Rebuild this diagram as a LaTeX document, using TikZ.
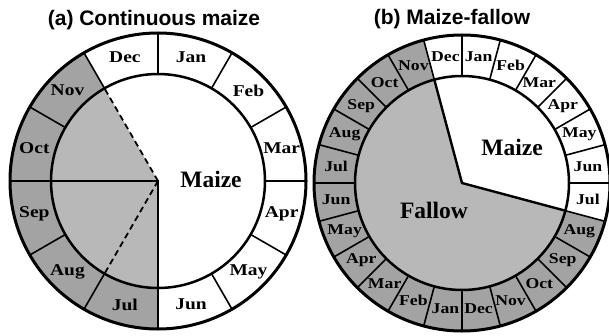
\documentclass[tikz,border=0pt]{standalone}
\usepackage{fontspec}
\setmainfont{Liberation Serif}
\newfontfamily\titlefont{Liberation Sans}
\definecolor{ringgray}{gray}{0.64}
\definecolor{diskgray}{gray}{0.72}
\begin{document}
\begin{tikzpicture}[x=1pt,y=1pt,
  outerc/.style={line width=3pt},
  innerc/.style={line width=2.5pt},
  divider/.style={line width=1.6pt},
  heavy/.style={line width=2.4pt},
  dashline/.style={line width=1.8pt,dash pattern=on 6pt off 4pt},
  monthL/.style={font=\fontsize{16.5}{16.5}\selectfont\bfseries,inner sep=0pt},
  monthR/.style={font=\fontsize{15}{15}\selectfont\bfseries,inner sep=0pt},
  crop/.style={font=\fontsize{23.5}{23.5}\selectfont\bfseries,inner sep=0pt},
  ttl/.style={font=\titlefont\fontsize{21}{21}\selectfont\bfseries,inner sep=0pt,anchor=base}]
\useasboundingbox (0,0) rectangle (609,335);
\def\Ro{148}
\def\Ri{107}
% ---------------- left circle ----------------
\coordinate (L) at (158,154);
\fill[ringgray] ([shift={(120:\Ro)}]L) arc[start angle=120,end angle=270,radius=\Ro]
  -- ([shift={(270:\Ri)}]L) arc[start angle=270,end angle=120,radius=\Ri] -- cycle;
\fill[diskgray] (L) -- ([shift={(120:\Ri)}]L) arc[start angle=120,end angle=270,radius=\Ri] -- cycle;
\foreach \a in {0,30,...,330}
  \draw[divider] ([shift={(\a:\Ri)}]L) -- ([shift={(\a:\Ro)}]L);
\draw[heavy] ([shift={(180:\Ro)}]L) -- (L) -- ([shift={(270:\Ro)}]L);
\draw[dashline] (L) -- ([shift={(120:\Ri)}]L);
\draw[dashline] (L) -- ([shift={(240:\Ri)}]L);
\draw[outerc] (L) circle[radius=\Ro];
\draw[innerc] (L) circle[radius=\Ri];
\foreach \m/\a [count=\i] in {Jan/75,Feb/45,Mar/15,Apr/-15,May/-45,Jun/-75,Jul/-105,Aug/-135,Sep/-165,Oct/165,Nov/135,Dec/105}
  \node[monthL] (lm\i) at ([shift={(\a:128)}]L) {\scalebox{1.18}[1]{\m}};
\node[crop] (lmaize) at (211,156) {Maize};
\node[ttl] (ltitle) at (154,309) {(a) Continuous maize};
% ---------------- right circle ----------------
\coordinate (R) at (462,152);
\fill[ringgray] ([shift={(105:\Ro)}]R) arc[start angle=105,end angle=345,radius=\Ro]
  -- ([shift={(345:\Ri)}]R) arc[start angle=345,end angle=105,radius=\Ri] -- cycle;
\fill[diskgray] (R) -- ([shift={(105:\Ri)}]R) arc[start angle=105,end angle=345,radius=\Ri] -- cycle;
\foreach \a in {0,15,...,345}
  \draw[divider] ([shift={(\a:\Ri)}]R) -- ([shift={(\a:\Ro)}]R);
\draw[heavy] ([shift={(105:\Ri)}]R) -- (R) -- ([shift={(-15:\Ri)}]R);
\draw[outerc] (R) circle[radius=\Ro];
\draw[innerc] (R) circle[radius=\Ri];
\foreach \m/\a [count=\i] in {Jan/82.5,Feb/67.5,Mar/52.5,Apr/37.5,May/22.5,Jun/7.5,Jul/-7.5,Aug/-22.5,Sep/-37.5,Oct/-52.5,Nov/-67.5,Dec/-82.5,Jan/-97.5,Feb/-112.5,Mar/-127.5,Apr/-142.5,May/-157.5,Jun/-172.5,Jul/172.5,Aug/157.5,Sep/142.5,Oct/127.5,Nov/112.5,Dec/97.5}
  \node[monthR] (rm\i) at ([shift={(\a:127)}]R) {\scalebox{1.18}[1]{\m}};
\node[crop] (rmaize) at (512,188) {Maize};
\node[crop] (rfallow) at (434,125) {Fallow};
\node[ttl] (rtitle) at (452,310) {(b) Maize-fallow};
\end{tikzpicture}
\end{document}
